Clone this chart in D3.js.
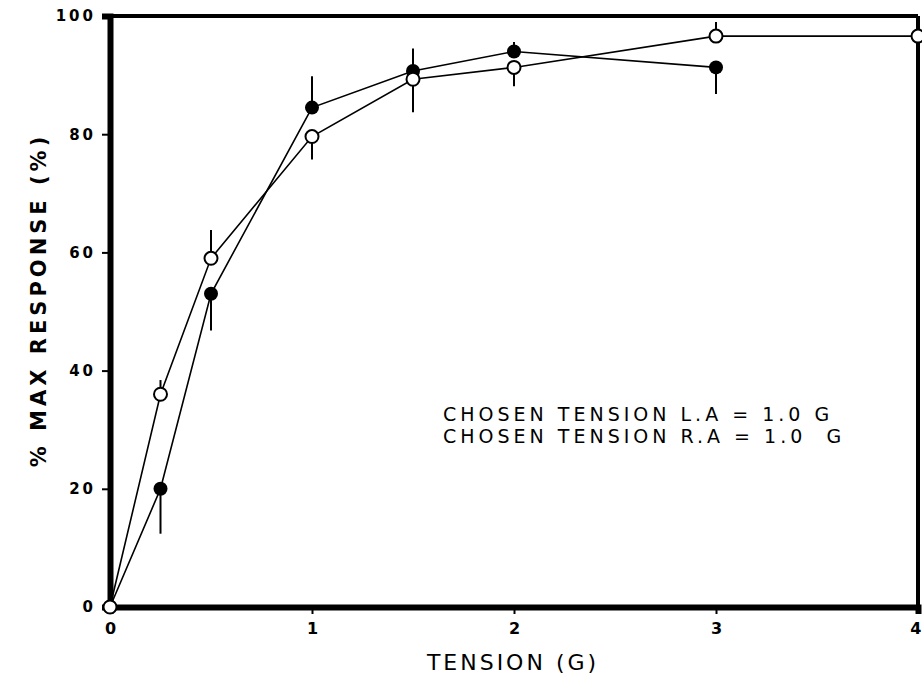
<!DOCTYPE html>
<html>
<head>
<meta charset="utf-8">
<script src="https://cdn.jsdelivr.net/npm/d3@7"></script>
<style>
  body { margin: 0; background: #fff; }
  svg { display: block; }
</style>
</head>
<body>
<div class="chart"></div>
<script>
// tension (g) and % of max response
var filledX = [0, 0.25, 0.5, 1, 1.5, 2, 3];
var filledY = [0, 20, 53, 84.5, 90.7, 94, 91.3];
var filledHi = [null, null, null, 89.8, 94.5, 95.6, null];
var filledLo = [null, 12.4, 46.8, null, null, null, 86.8];

var openX = [0, 0.25, 0.5, 1, 1.5, 2, 3, 4];
var openY = [0, 36, 59, 79.6, 89.3, 91.3, 96.6, 96.6];
var openHi = [null, 38.4, 63.8, null, null, null, 99, null];
var openLo = [null, null, null, 75.7, 83.7, 88.1, null, null];

var xTicks = [0, 1, 2, 3, 4];
var yTicks = [0, 20, 40, 60, 80, 100];
var notes = ['CHOSEN TENSION L.A = 1.0 G', 'CHOSEN TENSION R.A = 1.0  G'];

(function() {
  var width = 922, height = 675;
  var m = {left: 110, right: 918, top: 16, bottom: 607};

  var x = d3.scaleLinear().domain([0, 4]).range([m.left, m.right]);
  var y = d3.scaleLinear().domain([0, 100]).range([m.bottom, m.top]);

  var svg = d3.select('.chart').append('svg')
    .attr('width', width).attr('height', height);

  function pts(xs, ys, hi, lo) {
    return xs.map(function(v, i) { return {x: v, y: ys[i], hi: hi[i], lo: lo[i]}; });
  }
  var filled = pts(filledX, filledY, filledHi, filledLo);
  var open = pts(openX, openY, openHi, openLo);

  // frame: top and right
  svg.append('line').attr('x1', m.left).attr('x2', m.right).attr('y1', m.top).attr('y2', m.top)
    .attr('stroke', '#000').attr('stroke-width', 4);
  svg.append('line').attr('x1', m.right).attr('x2', m.right).attr('y1', m.top).attr('y2', m.bottom)
    .attr('stroke', '#000').attr('stroke-width', 4);

  // axes
  var xAxis = svg.append('g').attr('transform', 'translate(0,' + m.bottom + ')')
    .call(d3.axisBottom(x).tickValues(xTicks).tickFormat(d3.format('d')).tickSize(7).tickPadding(9));
  var yAxis = svg.append('g').attr('transform', 'translate(' + m.left + ',0)')
    .call(d3.axisLeft(y).tickValues(yTicks).tickFormat(d3.format('d')).tickSize(8).tickPadding(6));

  [xAxis, yAxis].forEach(function(g) {
    g.select('.domain').attr('stroke', '#000').attr('stroke-width', 6);
    g.selectAll('.tick line').attr('stroke', '#000').attr('stroke-width', 2);
    g.selectAll('.tick text')
      .attr('fill', '#000')
      .style('font-family', '"DejaVu Sans", sans-serif')
      .style('font-weight', 'bold')
      .style('font-size', '15px')
      .style('letter-spacing', '3px');
  });
  xAxis.selectAll('.tick text').style('letter-spacing', '0px').style('font-size', '16px');
  // last label sits against the page edge
  xAxis.selectAll('.tick text').filter(function(d) { return d === 4; })
    .attr('text-anchor', 'end').attr('dx', 3);

  // series lines
  var line = d3.line().x(function(d) { return x(d.x); }).y(function(d) { return y(d.y); });
  svg.append('path').datum(filled).attr('d', line)
    .attr('fill', 'none').attr('stroke', '#000').attr('stroke-width', 1.6);
  svg.append('path').datum(open).attr('d', line)
    .attr('fill', 'none').attr('stroke', '#000').attr('stroke-width', 1.6);

  // error bars (only the side that shows in the figure)
  function bars(data) {
    var g = svg.append('g');
    g.selectAll('line.hi').data(data.filter(function(d) { return d.hi != null; })).enter()
      .append('line')
      .attr('x1', function(d) { return x(d.x); }).attr('x2', function(d) { return x(d.x); })
      .attr('y1', function(d) { return y(d.y); }).attr('y2', function(d) { return y(d.hi); })
      .attr('stroke', '#000').attr('stroke-width', 2);
    g.selectAll('line.lo').data(data.filter(function(d) { return d.lo != null; })).enter()
      .append('line')
      .attr('x1', function(d) { return x(d.x); }).attr('x2', function(d) { return x(d.x); })
      .attr('y1', function(d) { return y(d.y); }).attr('y2', function(d) { return y(d.lo); })
      .attr('stroke', '#000').attr('stroke-width', 2);
  }
  bars(filled);
  bars(open);

  // markers
  svg.append('g').selectAll('circle').data(filled).enter()
    .append('circle')
    .attr('cx', function(d) { return x(d.x); })
    .attr('cy', function(d) { return y(d.y); })
    .attr('r', 7)
    .attr('fill', '#000');
  svg.append('g').selectAll('circle').data(open).enter()
    .append('circle')
    .attr('cx', function(d) { return x(d.x); })
    .attr('cy', function(d) { return y(d.y); })
    .attr('r', 6.5)
    .attr('fill', '#fff')
    .attr('stroke', '#000')
    .attr('stroke-width', 2);

  // axis titles
  svg.append('text')
    .attr('x', 513).attr('y', 670)
    .attr('text-anchor', 'middle')
    .style('font-family', '"DejaVu Sans", sans-serif')
    .style('font-size', '22px')
    .style('letter-spacing', '3px')
    .text('TENSION (G)');

  svg.append('text')
    .attr('transform', 'translate(46,300) rotate(-90)')
    .attr('text-anchor', 'middle')
    .style('font-family', '"DejaVu Sans", sans-serif')
    .style('font-weight', 'bold')
    .style('font-size', '21px')
    .style('letter-spacing', '4px')
    .text('% MAX RESPONSE (%)');

  // annotation
  svg.append('g').selectAll('text').data(notes).enter()
    .append('text')
    .attr('x', 443)
    .attr('y', function(d, i) { return 421 + i * 22; })
    .style('font-family', '"DejaVu Sans", sans-serif')
    .style('font-size', '19px')
    .style('letter-spacing', '4px')
    .style('white-space', 'pre')
    .text(function(d) { return d; });
})();
</script>
</body>
</html>
